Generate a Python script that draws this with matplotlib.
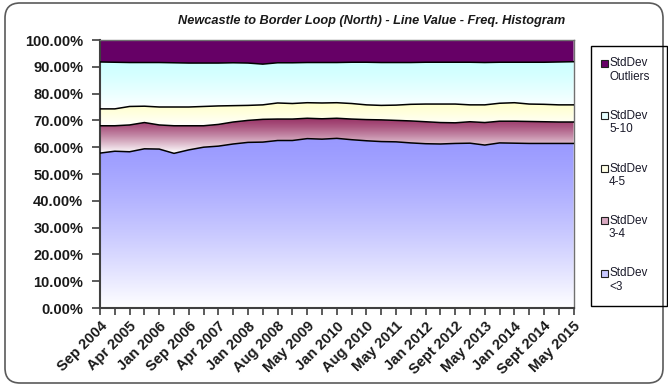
import numpy as np
import matplotlib
matplotlib.use("Agg")
import matplotlib.pyplot as plt
from matplotlib.patches import FancyBboxPatch, Rectangle
from matplotlib.colors import to_rgb

# Survey dates shown on the category axis (every second survey is labelled)
tick_labels = ["Sep 2004", "Apr 2005", "Jan 2006", "Sep 2006", "Apr 2007", "Jan 2008",
               "Aug 2008", "May 2009", "Jan 2010", "Aug 2010", "May 2011", "Jan 2012",
               "Sept 2012", "May 2013", "Jan 2014", "Sept 2014", "May 2015"]

# Share of line value in each standard-deviation band, per survey (%)
stddev_lt3 = [57.8, 58.5, 58.3, 59.4, 59.3, 57.7, 59.0, 60.0, 60.4, 61.2, 61.8,
              61.9, 62.5, 62.5, 63.2, 63.0, 63.3, 62.8, 62.4, 62.1, 62.0, 61.6,
              61.3, 61.2, 61.4, 61.5, 60.8, 61.6, 61.5, 61.4, 61.4, 61.4, 61.4]
stddev_3_4 = [10.2, 9.5, 10.0, 9.8, 9.0, 10.3, 9.0, 8.0, 8.1, 8.2, 8.2,
              8.5, 8.0, 8.0, 7.6, 7.6, 7.5, 7.7, 7.9, 8.1, 8.0, 8.2,
              8.2, 8.0, 7.7, 8.0, 8.4, 8.1, 8.2, 8.2, 8.1, 8.0, 8.0]
stddev_4_5 = [6.3, 6.3, 6.9, 6.1, 6.7, 7.0, 7.0, 7.2, 6.9, 6.1, 5.6,
              5.4, 6.0, 5.8, 5.8, 5.9, 5.8, 5.8, 5.5, 5.4, 5.7, 6.2,
              6.6, 6.9, 7.0, 6.3, 6.6, 6.7, 6.9, 6.5, 6.5, 6.4, 6.4]
stddev_5_10 = [17.5, 17.4, 16.4, 16.3, 16.6, 16.5, 16.4, 16.2, 16.0, 16.0, 15.8,
               15.2, 15.0, 15.2, 15.0, 15.1, 15.0, 15.4, 15.9, 16.0, 15.9, 15.6,
               15.6, 15.6, 15.6, 15.9, 15.8, 15.3, 15.1, 15.6, 15.7, 16.0, 16.1]
stddev_outliers = [8.2, 8.3, 8.4, 8.4, 8.4, 8.5, 8.6, 8.6, 8.6, 8.5, 8.6,
                   9.0, 8.5, 8.5, 8.4, 8.4, 8.4, 8.3, 8.3, 8.4, 8.4, 8.4,
                   8.3, 8.3, 8.3, 8.3, 8.4, 8.3, 8.3, 8.3, 8.3, 8.2, 8.1]

series_names = ["StdDev\n<3", "StdDev\n3-4", "StdDev\n4-5", "StdDev\n5-10", "StdDev\nOutliers"]
series_colors = ["#9999FF", "#993366", "#FFFFCC", "#CCFFFF", "#660066"]
series_gradient = [True, True, True, True, False]
legend_swatch = ["#C8C8FF", "#D8A8C0", "#FFFFE6", "#E6FFFF", "#660066"]

W, H = 668, 391
fig = plt.figure(figsize=(W / 100, H / 100), dpi=100)
fig.patch.set_facecolor("white")

# rounded chart-area border
fig.add_artist(FancyBboxPatch((0.05, 0.08), 6.58, 3.80,
                              boxstyle="round,pad=0,rounding_size=0.15",
                              transform=fig.dpi_scale_trans, fill=False,
                              ec="#5a5a5a", lw=1.2))

ax = fig.add_axes([100 / W, 1 - 308 / H, 473.6 / W, 268 / H])

layers = np.vstack([stddev_lt3, stddev_3_4, stddev_4_5, stddev_5_10, stddev_outliers])
n = layers.shape[1]
x = np.arange(n)
upper = np.cumsum(layers, axis=0)
lower = np.vstack([np.zeros(n), upper[:-1]])

for k in range(len(layers)):
    color = series_colors[k]
    poly = ax.fill_between(x, lower[k], upper[k], facecolor=color, lw=0, zorder=1)
    if series_gradient[k]:
        poly.set_facecolor("none")
        y0, y1 = lower[k].min(), upper[k].max()
        t = np.linspace(0, 1, 256)[:, None]          # 0 = bottom, 1 = top
        whiten = (1 - t) ** 1.3
        top = np.array(to_rgb(color))[None, :]
        img = top * (1 - whiten) + whiten
        im = ax.imshow(img.reshape(256, 1, 3), extent=[x[0], x[-1], y0, y1],
                       origin="lower", aspect="auto", zorder=1, interpolation="bilinear")
        im.set_clip_path(poly.get_paths()[0], transform=ax.transData)

for k in range(len(layers) - 1):
    ax.plot(x, upper[k], color="black", lw=1.1, zorder=3)

ax.set_xlim(x[0], x[-1])
ax.set_ylim(0, 100)

yt = np.arange(0, 101, 10)
ax.set_yticks(yt)
ax.set_yticklabels([f"{v:.2f}%" for v in yt], fontsize=10.5, fontweight="bold",
                   family="Liberation Sans", color="#1a1a1a")
ax.set_xticks(x)
ax.set_xticklabels([tick_labels[i // 2] if i % 2 == 0 else "" for i in x],
                   rotation=45, ha="right", rotation_mode="anchor",
                   fontsize=10.5, fontweight="bold", family="Liberation Sans", color="#1a1a1a")
ax.tick_params(axis="y", length=6, width=1.2, color="#404040", pad=6)
ax.tick_params(axis="x", length=5, width=1.2, color="#404040", pad=3)

for side in ("left", "bottom"):
    ax.spines[side].set_color("#404040")
    ax.spines[side].set_linewidth(1.5)
for side in ("top", "right"):
    ax.spines[side].set_color("#707070")
    ax.spines[side].set_linewidth(1.0)

fig.text(565 / W, 1 - 21 / H,
         "Newcastle to Border Loop (North) - Line Value - Freq. Histogram",
         ha="right", va="center", fontsize=9.2, fontweight="bold", fontstyle="italic",
         family="Liberation Sans", color="#1a1a1a")

# legend box, entries listed top-down from the uppermost band
fig.add_artist(Rectangle((591 / W, 1 - 306 / H), 76 / W, 260 / H,
                         transform=fig.transFigure, fill=False, ec="black", lw=1.0))
for j, k in enumerate(reversed(range(len(layers)))):
    yc = 63 + 52.5 * j
    fig.add_artist(Rectangle((600.5 / W, 1 - (yc + 3.5) / H), 7 / W, 7 / H,
                             transform=fig.transFigure, fc=legend_swatch[k],
                             ec="#202020", lw=0.8))
    fig.text(609 / W, 1 - (yc - 5.5) / H, series_names[k], ha="left", va="top",
             fontsize=8.5, family="Liberation Sans", color="#1a1a2a", linespacing=1.15)

fig.savefig("out.png", dpi=100)
